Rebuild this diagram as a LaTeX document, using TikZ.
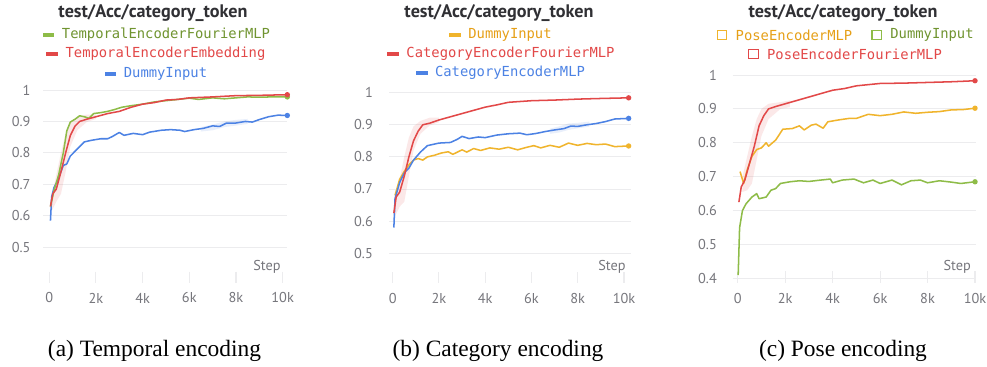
\documentclass[tikz,border=0pt]{standalone}
\usepackage{fontspec}
\setmainfont{Liberation Serif}
\newfontfamily\chartfont{PT Sans}
\newfontfamily\legendfont{DejaVu Sans Mono}
\usepackage{tikz}
\usetikzlibrary{positioning}
\definecolor{runred}{RGB}{226,72,72}
\definecolor{runblue}{RGB}{76,130,228}
\definecolor{rungreen}{RGB}{142,188,72}
\definecolor{runorange}{RGB}{240,180,44}
\definecolor{greentext}{RGB}{112,148,48}
\definecolor{orangetext}{RGB}{230,160,24}
\definecolor{gridgray}{RGB}{236,236,238}
\definecolor{tickgray}{RGB}{118,118,124}
\definecolor{titlegray}{RGB}{48,48,52}
\tikzstyle{grid line}=[draw=gridgray, line width=0.7pt]
\tikzstyle{tick mark}=[draw=gridgray, line width=0.9pt]
\tikzstyle{tick label}=[font=\chartfont\fontsize{12.2}{13}\selectfont, text=tickgray, inner sep=0pt]
\tikzstyle{chart title}=[font=\chartfont\bfseries\fontsize{15.5}{17}\selectfont, text=titlegray, inner sep=0pt]
\tikzstyle{legend text}=[font=\legendfont\fontsize{11.8}{13}\selectfont, inner sep=0pt]
\tikzstyle{legend dash}=[rectangle, inner sep=0pt, minimum width=10pt, minimum height=2.6pt, left=6pt]
\tikzstyle{legend box}=[rectangle, draw, line width=1pt, inner sep=0pt, minimum size=8pt, left=7pt]
\tikzstyle{run}=[line width=1.3pt, line join=round]
\tikzstyle{end dot}=[circle, inner sep=0pt, minimum size=4.6pt]
\tikzstyle{caption}=[font=\fontsize{20}{22}\selectfont, inner sep=0pt]

\begin{document}
\begin{tikzpicture}[x=0.03cm, y=-0.03cm]
	\useasboundingbox[fill=white] (0,0) rectangle (987,366);

	% titles and legends
	\node[chart title] (title a) at (153,13) {test/Acc/category\_token};
	\node[legend text, text=greentext] (leg a1) at (166,35) {TemporalEncoderFourierMLP};
	\node[legend dash, fill=rungreen] (mark a1) at (leg a1.west) {};
	\node[legend text, text=runred] (leg a2) at (165.5,54) {TemporalEncoderEmbedding};
	\node[legend dash, fill=runred] (mark a2) at (leg a2.west) {};
	\node[legend text, text=runblue] (leg a3) at (165.5,74) {DummyInput};
	\node[legend dash, fill=runblue] (mark a3) at (leg a3.west) {};

	\node[chart title] (title b) at (499,13) {test/Acc/category\_token};
	\node[legend text, text=orangetext] (leg b1) at (510,35) {DummyInput};
	\node[legend dash, fill=runorange] (mark b1) at (leg b1.west) {};
	\node[legend text, text=runred] (leg b2) at (510.5,54) {CategoryEncoderFourierMLP};
	\node[legend dash, fill=runred] (mark b2) at (leg b2.west) {};
	\node[legend text, text=runblue] (leg b3) at (510,73) {CategoryEncoderMLP};
	\node[legend dash, fill=runblue] (mark b3) at (leg b3.west) {};

	\node[chart title] (title c) at (843,13) {test/Acc/category\_token};
	\node[legend text, text=orangetext] (leg c1) at (794,35) {PoseEncoderMLP};
	\node[legend box, draw=runorange] (mark c1) at (leg c1.west) {};
	\node[legend text, text=greentext] (leg c2) at (932,35) {DummyInput};
	\node[legend box, draw=rungreen] (mark c2) at (leg c2.west) {};
	\node[legend text, text=runred] (leg c3) at (854.5,54) {PoseEncoderFourierMLP};
	\node[legend box, draw=runred] (mark c3) at (leg c3.west) {};

	% temporal encoding
	\begin{scope}[shift={(49.3,404.6)}, x=0.7cm, y=9.438cm]
		\foreach \v [count=\i] in {0.5,0.6,0.7,0.8,0.9,1} {
			\draw[grid line] (-0.27,\v) -- (10.2,\v);
			\node[tick label, anchor=east] (ya\i) at (-0.8,\v) {\v};
		}
		\foreach \k/\t [count=\i] in {0/0,2/2k,4/4k,6/6k,8/8k,10/10k} {
			\draw[tick mark] (\k,0.4215) -- (\k,0.3865);
			\node[tick label] (xa\i) at (\k,0.339) {\t};
		}
		\node[tick label] (step a) at (9.33,0.437) {Step};
		\fill[runred, opacity=0.12] (0.1,0.66) -- (0.3,0.73) -- (0.5,0.8) -- (0.7,0.86) -- (0.9,0.895) -- (1.2,0.912) -- (1.6,0.922) -- (2,0.922)
			-- (2,0.908) -- (1.6,0.898) -- (1.2,0.872) -- (0.9,0.82) -- (0.7,0.74) -- (0.5,0.67) -- (0.3,0.645) -- (0.1,0.615) -- cycle;
		\fill[runblue, opacity=0.12] (6.5,0.882) -- (7,0.89) -- (7.5,0.9) -- (8,0.905) -- (8.5,0.908) -- (8.5,0.892) -- (8,0.887) -- (7.5,0.882) -- (7,0.872) -- (6.5,0.868) -- cycle;
		\draw[run, runblue] plot coordinates {(0.05,0.585) (0.1,0.66) (0.2,0.69) (0.35,0.71) (0.5,0.74) (0.6,0.76) (0.75,0.765) (0.9,0.79) (1.1,0.805) (1.3,0.82) (1.5,0.835) (1.8,0.84) (2.2,0.845) (2.5,0.845) (2.7,0.852) (3,0.865) (3.2,0.856) (3.6,0.862) (4,0.858) (4.3,0.866) (4.8,0.872) (5.2,0.874) (5.6,0.872) (5.8,0.868) (6.2,0.874) (6.6,0.878) (7,0.886) (7.3,0.884) (7.6,0.895) (8,0.895) (8.4,0.9) (8.7,0.898) (9,0.906) (9.4,0.915) (9.8,0.92) (10.2,0.919)};
		\draw[run, rungreen] plot coordinates {(0.05,0.63) (0.2,0.68) (0.4,0.73) (0.6,0.8) (0.75,0.87) (0.9,0.898) (1.1,0.907) (1.3,0.918) (1.5,0.915) (1.7,0.91) (1.9,0.925) (2.2,0.928) (2.5,0.932) (2.8,0.938) (3.1,0.945) (3.5,0.95) (4,0.955) (4.5,0.962) (5,0.966) (5.5,0.97) (6,0.974) (6.4,0.97) (7,0.975) (7.5,0.972) (8,0.975) (8.5,0.978) (9,0.977) (9.5,0.978) (10.2,0.978)};
		\draw[run, runred] plot coordinates {(0.05,0.63) (0.15,0.67) (0.3,0.685) (0.5,0.74) (0.7,0.8) (0.9,0.855) (1.1,0.885) (1.3,0.9) (1.6,0.907) (2,0.915) (2.5,0.925) (3,0.932) (3.5,0.945) (4,0.955) (4.5,0.96) (5,0.968) (5.5,0.97) (6,0.975) (7,0.978) (8,0.982) (9,0.983) (10.2,0.985)};
		\node[end dot, fill=runblue] (end a3) at (10.2,0.919) {};
		\node[end dot, fill=rungreen] (end a1) at (10.2,0.978) {};
		\node[end dot, fill=runred] (end a2) at (10.2,0.985) {};
	\end{scope}

	% category encoding
	\begin{scope}[shift={(392.7,413.7)}, x=0.6939cm, y=9.63cm]
		\foreach \v [count=\i] in {0.5,0.6,0.7,0.8,0.9,1} {
			\draw[grid line] (-0.16,\v) -- (10.3,\v);
			\node[tick label, anchor=east] (yb\i) at (-0.85,\v) {\v};
		}
		\foreach \k/\t [count=\i] in {0/0,2/2k,4/4k,6/6k,8/8k,10/10k} {
			\draw[tick mark] (\k,0.4414) -- (\k,0.4072);
			\node[tick label] (xb\i) at (\k,0.3604) {\t};
		}
		\node[tick label] (step b) at (9.48,0.457) {Step};
		\fill[runred, opacity=0.12] (0.1,0.66) -- (0.3,0.73) -- (0.5,0.8) -- (0.7,0.86) -- (0.9,0.895) -- (1.2,0.912) -- (1.6,0.922) -- (2,0.922)
			-- (2,0.908) -- (1.6,0.898) -- (1.2,0.872) -- (0.9,0.82) -- (0.7,0.74) -- (0.5,0.66) -- (0.3,0.645) -- (0.1,0.615) -- cycle;
		\fill[runblue, opacity=0.12] (6.8,0.888) -- (7.2,0.895) -- (7.6,0.904) -- (8,0.906) -- (8.5,0.91) -- (8.5,0.894) -- (8,0.889) -- (7.6,0.884) -- (7.2,0.876) -- (6.8,0.872) -- cycle;
		\draw[run, runorange] plot coordinates {(0.1,0.68) (0.3,0.73) (0.5,0.755) (0.7,0.775) (0.9,0.79) (1.1,0.795) (1.3,0.79) (1.5,0.8) (1.8,0.805) (2.1,0.812) (2.4,0.816) (2.6,0.808) (3,0.822) (3.2,0.815) (3.5,0.826) (3.8,0.82) (4.2,0.828) (4.6,0.824) (5,0.83) (5.4,0.822) (5.8,0.83) (6.1,0.835) (6.4,0.828) (6.8,0.836) (7.2,0.83) (7.6,0.843) (8,0.836) (8.4,0.842) (8.8,0.838) (9.2,0.84) (9.6,0.832) (10.2,0.834)};
		\draw[run, runblue] plot coordinates {(0.05,0.58) (0.1,0.67) (0.3,0.72) (0.5,0.75) (0.7,0.765) (0.9,0.79) (1.2,0.815) (1.5,0.835) (2,0.843) (2.5,0.845) (2.8,0.855) (3,0.864) (3.3,0.857) (3.7,0.862) (4,0.86) (4.5,0.868) (5,0.872) (5.5,0.874) (5.8,0.869) (6.2,0.873) (6.6,0.879) (7,0.884) (7.4,0.888) (7.7,0.896) (8,0.895) (8.4,0.9) (8.8,0.904) (9.2,0.91) (9.6,0.918) (10.2,0.92)};
		\draw[run, runred] plot coordinates {(0.05,0.625) (0.15,0.675) (0.3,0.69) (0.5,0.74) (0.7,0.8) (0.9,0.85) (1.1,0.88) (1.3,0.9) (1.6,0.905) (2,0.915) (2.5,0.925) (3,0.935) (3.5,0.945) (4,0.955) (4.5,0.962) (5,0.97) (6,0.975) (7,0.977) (8,0.98) (9,0.982) (10.2,0.984)};
		\node[end dot, fill=runorange] (end b1) at (10.2,0.834) {};
		\node[end dot, fill=runblue] (end b3) at (10.2,0.92) {};
		\node[end dot, fill=runred] (end b2) at (10.2,0.984) {};
	\end{scope}

	% pose encoding
	\begin{scope}[shift={(737.7,414)}, x=0.7119cm, y=10.17cm]
		\foreach \v [count=\i] in {0.4,0.5,0.6,0.7,0.8,0.9,1} {
			\draw[grid line] (-0.2,\v) -- (10.05,\v);
			\node[tick label, anchor=east] (yc\i) at (-0.87,\v) {\v};
		}
		\foreach \k/\t [count=\i] in {0/0,2/2k,4/4k,6/6k,8/8k,10/10k} {
			\draw[tick mark] (\k,0.4218) -- (\k,0.3864);
			\node[tick label] (xc\i) at (\k,0.342) {\t};
		}
		\node[tick label] (step c) at (9.25,0.434) {Step};
		\fill[runred, opacity=0.12] (0.2,0.7) -- (0.4,0.76) -- (0.6,0.82) -- (0.8,0.87) -- (1,0.9) -- (1.3,0.915) -- (1.8,0.92) -- (2.2,0.925)
			-- (2.2,0.905) -- (1.8,0.9) -- (1.3,0.87) -- (1,0.82) -- (0.8,0.75) -- (0.6,0.68) -- (0.4,0.66) -- (0.2,0.655) -- cycle;
		\draw[run, rungreen] plot coordinates {(0.02,0.41) (0.08,0.55) (0.2,0.6) (0.35,0.62) (0.6,0.64) (0.8,0.65) (0.9,0.635) (1.2,0.64) (1.4,0.66) (1.6,0.665) (1.8,0.68) (2.2,0.685) (2.6,0.688) (3,0.686) (3.5,0.69) (3.9,0.693) (4,0.682) (4.4,0.69) (4.9,0.693) (5.3,0.682) (5.7,0.69) (6,0.68) (6.5,0.69) (6.9,0.676) (7.3,0.688) (7.7,0.69) (8,0.682) (8.5,0.688) (9,0.684) (9.4,0.68) (10,0.685)};
		\draw[run, runorange] plot coordinates {(0.1,0.715) (0.25,0.68) (0.4,0.72) (0.6,0.76) (0.8,0.78) (1,0.785) (1.2,0.8) (1.3,0.79) (1.6,0.808) (1.9,0.84) (2.3,0.842) (2.6,0.85) (2.8,0.838) (3.1,0.852) (3.3,0.855) (3.6,0.843) (3.8,0.862) (4.3,0.868) (4.7,0.872) (5,0.872) (5.5,0.884) (6,0.88) (6.5,0.884) (7,0.891) (7.5,0.887) (8,0.89) (8.5,0.892) (9,0.897) (9.5,0.898) (10,0.902)};
		\draw[run, runred] plot coordinates {(0.05,0.625) (0.15,0.67) (0.3,0.69) (0.5,0.74) (0.7,0.79) (0.9,0.85) (1.1,0.88) (1.3,0.9) (1.6,0.907) (2,0.915) (2.5,0.925) (3,0.935) (3.5,0.945) (4,0.955) (4.5,0.96) (5,0.968) (6,0.975) (7,0.976) (8,0.978) (9,0.98) (10,0.983)};
		\node[end dot, fill=rungreen] (end c2) at (10,0.685) {};
		\node[end dot, fill=runorange] (end c1) at (10,0.902) {};
		\node[end dot, fill=runred] (end c3) at (10,0.983) {};
	\end{scope}

	% sub-figure captions
	\node[caption] (cap a) at (154.5,351) {(a) Temporal encoding};
	\node[caption] (cap b) at (498,351) {(b) Category encoding};
	\node[caption] (cap c) at (843,351) {(c) Pose encoding};
\end{tikzpicture}
\end{document}
